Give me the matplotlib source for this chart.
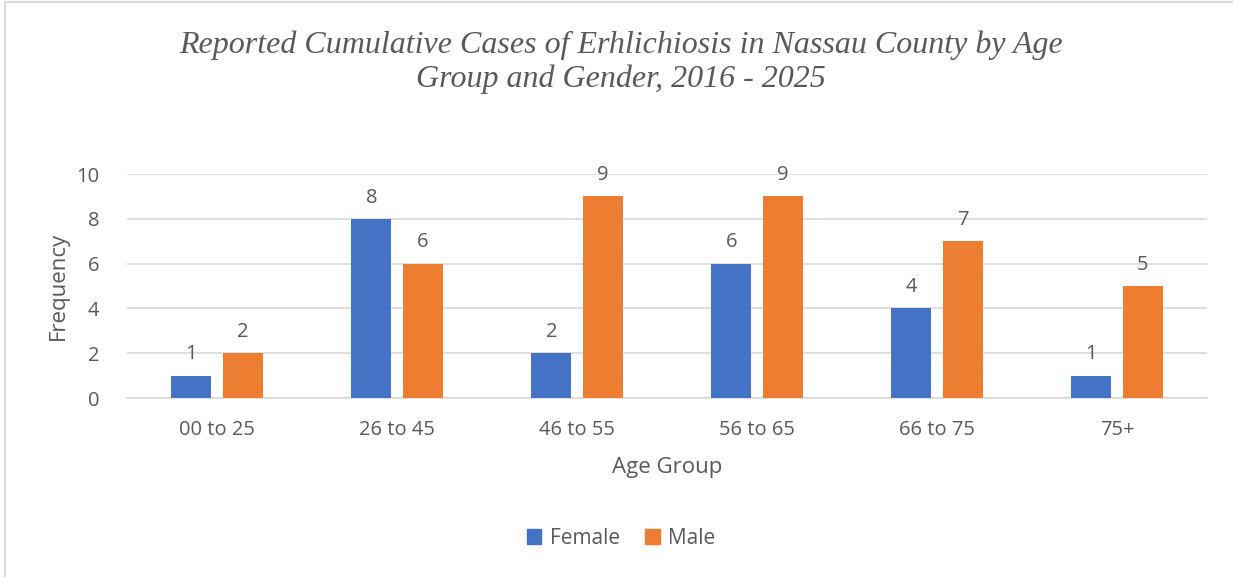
import numpy as np
import matplotlib.pyplot as plt
from matplotlib.patches import Patch
from matplotlib.lines import Line2D

# data
groups = ['00 to 25', '26 to 45', '46 to 55', '56 to 65', '66 to 75', '75+']
female = [1, 8, 2, 6, 4, 1]
male = [2, 6, 9, 9, 7, 5]

blue = '#4472c4'
orange = '#ed7d31'
grey = '#595959'
font = 'Open Sans'

fig = plt.figure(figsize=(12.33, 5.77), dpi=100)
ax = fig.add_axes([127/1233, 179/577, 1080/1233, 224/577])

x = np.arange(len(groups))
w = 0.222
b1 = ax.bar(x - 0.142, female, w, color=blue, label='Female', zorder=3)
b2 = ax.bar(x + 0.142, male, w, color=orange, label='Male', zorder=3)

for bars in (b1, b2):
    for r in bars:
        ax.text(r.get_x() + r.get_width()/2, r.get_height() + 0.5, str(int(r.get_height())),
                ha='center', va='bottom', fontsize=14.5, color=grey, family=font)

ax.set_xlim(-0.5, len(groups) - 0.5)
ax.set_ylim(0, 10)
ax.set_yticks([0, 2, 4, 6, 8, 10])
ax.set_xticks(x)
ax.set_xticklabels(groups)
ax.yaxis.grid(True, color='#d9d9d9', linewidth=1.2, zorder=0)
ax.set_axisbelow(True)
for s in ['top', 'right', 'left']:
    ax.spines[s].set_visible(False)
ax.spines['bottom'].set_color('#d9d9d9')
ax.spines['bottom'].set_linewidth(1.2)
ax.tick_params(length=0, labelsize=14.5, labelcolor=grey)
ax.tick_params(axis='x', pad=16)
ax.tick_params(axis='y', pad=20)
for lab in ax.get_xticklabels() + ax.get_yticklabels():
    lab.set_family(font)

fig.text(58/1233, 1 - 286/577, 'Frequency', rotation=90, ha='center', va='center',
         fontsize=16, color=grey, family=font)
fig.text(667/1233, 1 - 467/577, 'Age Group', ha='center', va='center',
         fontsize=16, color=grey, family=font)

fig.text(621/1233, 1 - 62/577, 'Reported Cumulative Cases of Erhlichiosis in Nassau County by Age\nGroup and Gender, 2016 - 2025',
         ha='center', va='center', fontsize=23, color=grey, family='Liberation Serif',
         style='italic', linespacing=1.2)

handles = [Patch(color=blue), Patch(color=orange)]
leg = fig.legend(handles, ['Female', 'Male'], loc='center', bbox_to_anchor=(621/1233, 1 - 538/577),
                 ncol=2, frameon=False, handlelength=0.7, handleheight=0.7, handletextpad=0.4,
                 columnspacing=1.2, prop={'family': font, 'size': 15})
for t in leg.get_texts():
    t.set_color(grey)

# chart border
fig.add_artist(Line2D([5/1233, 5/1233], [0, 1 - 2/577], color='#d9d9d9', lw=1.5))
fig.add_artist(Line2D([5/1233, 1], [1 - 2/577, 1 - 2/577], color='#d9d9d9', lw=1.5))

fig.savefig('out.png', dpi=100, facecolor='white')
